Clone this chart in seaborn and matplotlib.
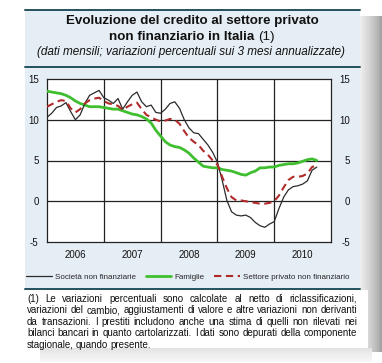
import numpy as np
import pandas as pd
import matplotlib
matplotlib.use("Agg")
import matplotlib.pyplot as plt
import matplotlib.transforms as mtrans
from matplotlib.lines import Line2D
from matplotlib.patches import Rectangle
import seaborn as sns

# dati mensili da gennaio 2006
societa = [10.3, 10.8, 11.5, 11.7, 12.1, 11.0, 10.0, 10.6, 12.0, 13.0, 13.3, 13.6,
           12.7, 12.4, 12.0, 12.6, 11.3, 12.2, 13.0, 13.4, 12.2, 11.6, 11.8, 10.9,
           10.8, 11.3, 12.0, 12.2, 11.4, 10.0, 9.0, 8.4, 8.3, 7.6, 6.9, 6.0,
           4.8, 2.6, 0.1, -1.3, -1.7, -1.8, -1.7, -2.0, -2.6, -3.0, -3.2, -2.8,
           -2.5, -0.9, 0.5, 1.4, 1.8, 1.9, 2.1, 2.5, 3.8, 4.2]
famiglie = [13.5, 13.4, 13.3, 13.2, 13.0, 12.7, 12.3, 12.0, 11.8, 11.6, 11.6, 11.6,
            11.5, 11.4, 11.3, 11.3, 11.1, 10.9, 10.7, 10.6, 10.4, 10.1, 9.6, 8.7,
            8.0, 7.3, 6.9, 6.7, 6.6, 6.3, 5.9, 5.3, 4.8, 4.3, 4.2, 4.1,
            4.1, 3.9, 3.8, 3.7, 3.5, 3.3, 3.2, 3.5, 3.7, 4.1, 4.1, 4.2,
            4.2, 4.4, 4.5, 4.6, 4.6, 4.7, 4.9, 5.1, 5.2, 5.0]
settore = [11.6, 11.9, 12.2, 12.4, 12.3, 11.4, 10.9, 11.3, 12.0, 12.4, 12.6, 12.7,
           12.3, 12.0, 11.9, 11.7, 11.2, 11.6, 11.9, 12.1, 11.3, 10.6, 10.3, 10.0,
           9.8, 9.9, 10.1, 10.0, 9.5, 8.6, 7.8, 7.3, 6.9, 6.2, 5.7, 5.0,
           4.5, 3.0, 1.6, 0.5, 0.1, 0.1, 0.0, -0.1, -0.2, -0.3, -0.3, -0.2,
           0.0, 0.7, 1.7, 2.6, 3.0, 3.0, 3.1, 3.4, 4.2, 4.4]
anni = [2006, 2007, 2008, 2009, 2010]
yticks = [-5, 0, 5, 10, 15]

mesi = 2006 + np.arange(len(societa)) / 12.0
df = pd.DataFrame({"t": mesi, "soc": societa, "fam": famiglie, "set": settore})

sns.set_style("white")
plt.rcParams["font.family"] = ["Liberation Sans", "DejaVu Sans"]

W, H = 382, 363
fig = plt.figure(figsize=(W / 100, H / 100), dpi=100)
fig.patch.set_facecolor("white")

# sfondo in coordinate pixel
bg = fig.add_axes([0, 0, 1, 1], zorder=-10)
bg.set_xlim(0, W)
bg.set_ylim(H, 0)
bg.axis("off")
# ombra a destra e in basso
bg.imshow(np.linspace(0, 1, 64)[None, :], extent=(360, 382, 352, 16), cmap="Greys",
          vmin=-0.4, vmax=2.6, aspect="auto", zorder=0)
bg.imshow(np.linspace(1, 0, 32)[:, None], extent=(40, 372, 362, 348), cmap="Greys",
          vmin=-0.5, vmax=7.0, aspect="auto", zorder=0)
bg.add_patch(Rectangle((25, 10), 335, 280, facecolor="#e6eef5", edgecolor="none", zorder=1))
bg.add_patch(Rectangle((25, 290), 343, 58, facecolor="white", edgecolor="none", zorder=1))
for yy in (10, 67, 289):
    bg.plot([25, 360], [yy, yy], color="#24505e", lw=1.4, zorder=2)

bg.text(192, 21, "Evoluzione del credito al settore privato", ha="center", va="center",
        fontsize=9.6, fontweight="bold", color="#111111", zorder=3)
t_bold = bg.text(0, 37, "non finanziario in Italia ", ha="left", va="center",
                 fontsize=9.6, fontweight="bold", color="#111111", zorder=3)
t_reg = bg.text(0, 37, "(1)", ha="left", va="center", fontsize=9.6, color="#111111", zorder=3)
bg.text(191, 52, "(dati mensili; variazioni percentuali sui 3 mesi annualizzate)",
        ha="center", va="center", fontsize=8.5, style="italic", color="#111111", zorder=3)

# grafico
ax = fig.add_axes([47 / W, 121 / H, 284 / W, 163 / H])
ax.set_facecolor("white")
sns.lineplot(data=df, x="t", y="soc", ax=ax, color="#2b2b2b", lw=0.9, zorder=4)
sns.lineplot(data=df, x="t", y="fam", ax=ax, color="#3fbf2f", lw=2.0, zorder=3)
sns.lineplot(data=df, x="t", y="set", ax=ax, color="#b02a2a", lw=1.5, zorder=5)
ax.lines[-1].set_dashes((3.5, 2.2))

ax.set_xlim(anni[0], anni[-1] + 1)
ax.set_ylim(yticks[0], yticks[-1])
ax.set_yticks(yticks)
ax.set_yticklabels([str(v) for v in yticks])
ax.set_xticks([a + 0.5 for a in anni])
ax.set_xticklabels([str(a) for a in anni])
ax.set_xticks([a + q / 4 for a in anni for q in (1, 2, 3)], minor=True)
ax.tick_params(axis="x", which="major", length=0, pad=6, labelsize=7, colors="#111111")
ax.tick_params(axis="x", which="minor", direction="in", length=3, width=0.8, color="#222222")
ax.tick_params(axis="y", length=0, labelsize=7, colors="#111111", labelleft=True,
               labelright=True, pad=6)
offset = mtrans.ScaledTranslation(7.5 / 72, 0, fig.dpi_scale_trans)
for tk in ax.yaxis.get_major_ticks():
    tk.label2.set_horizontalalignment("right")
    tk.label2.set_transform(tk.label2.get_transform() + offset)
ax.grid(False)
for v in yticks[1:-1]:
    ax.axhline(v, color="#222222", lw=0.9, zorder=1)
for a in anni[1:]:
    ax.axvline(a, color="#222222", lw=0.9, zorder=1)
for s in ax.spines.values():
    s.set_visible(True)
    s.set_color("#222222")
    s.set_linewidth(0.9)
ax.set_xlabel("")
ax.set_ylabel("")

handles = [Line2D([], [], color="#2b2b2b", lw=0.9),
           Line2D([], [], color="#3fbf2f", lw=2.0),
           Line2D([], [], color="#b02a2a", lw=1.5, dashes=(3.5, 2.2))]
fig.legend(handles, ["Società non finanziarie", "Famiglie", "Settore privato non finanziario"],
           loc="center", bbox_to_anchor=(188 / W, 1 - 277 / H), ncol=3, frameon=False,
           fontsize=5.8, handlelength=3.2, handletextpad=0.4, columnspacing=1.2)

fig.canvas.draw()
renderer = fig.canvas.get_renderer()

# titolo seconda riga centrato
wb = t_bold.get_window_extent(renderer).width
wr = t_reg.get_window_extent(renderer).width
t_bold.set_x(192 - (wb + wr) / 2)
t_reg.set_x(192 - (wb + wr) / 2 + wb)

# nota giustificata
note = ["(1) Le variazioni percentuali sono calcolate al netto di riclassificazioni,",
        "variazioni del cambio, aggiustamenti di valore e altre variazioni non derivanti",
        "da transazioni. I prestiti includono anche una stima di quelli non rilevati nei",
        "bilanci bancari in quanto cartolarizzati. I dati sono depurati della componente",
        "stagionale, quando presente."]
x0, x1 = 27, 357
for k, riga in enumerate(note):
    yy = 301.5 + k * 11.6
    parole = riga.split(" ")
    objs = [bg.text(0, yy, p, ha="left", va="baseline", fontsize=7.0, color="#111111", zorder=3)
            for p in parole]
    widths = [o.get_window_extent(renderer).width for o in objs]
    if k < len(note) - 1:
        gap = (x1 - x0 - sum(widths)) / (len(parole) - 1)
    else:
        gap = 2.2
    x = x0
    for o, w in zip(objs, widths):
        o.set_x(x)
        x += w + gap

fig.savefig("out.png", dpi=100, facecolor="white")
